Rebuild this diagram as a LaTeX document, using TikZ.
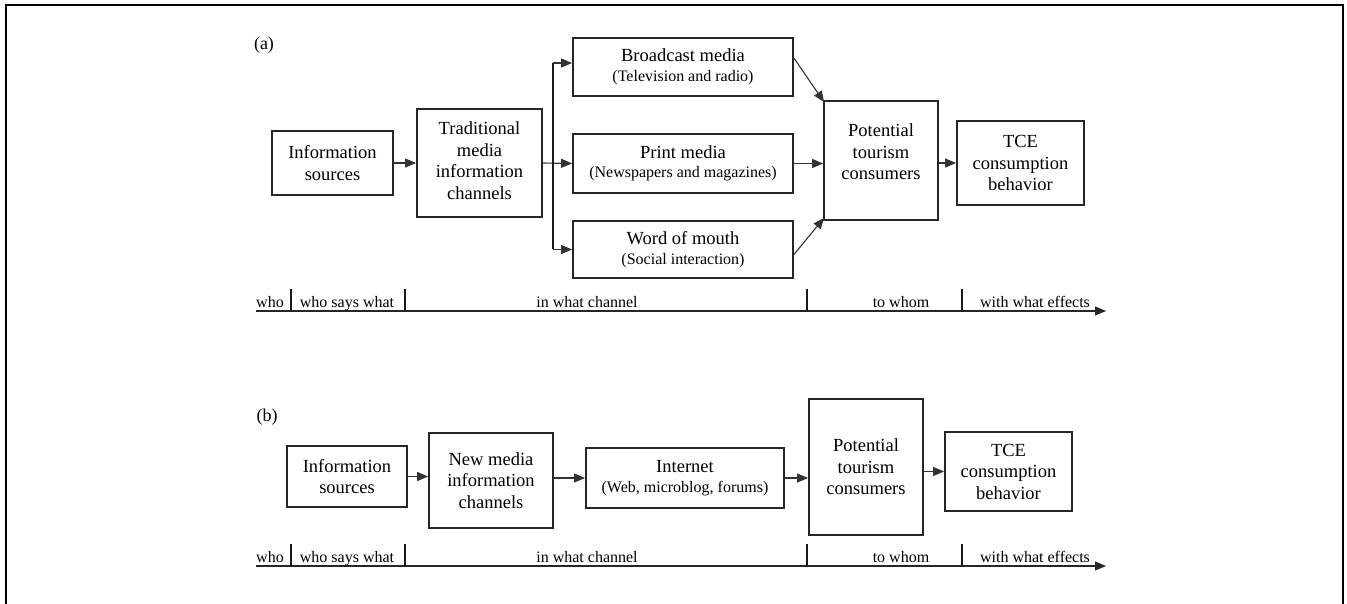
\documentclass[tikz,border=0pt]{standalone}
\usepackage{fontspec}
\setmainfont{Liberation Serif}
\usetikzlibrary{arrows.meta,calc}
\begin{document}
\begin{tikzpicture}[x=1pt,y=-1pt,
  box/.style={draw=black!85,line width=1.8pt,align=center,inner sep=0pt,
    font=\fontsize{18.5}{21.5}\selectfont},
  arr/.style={line width=1.1pt,draw=black!80,-{Triangle[length=11pt,width=9pt]}},
  bar/.style={line width=2pt,draw=black!90},
  tline/.style={line width=1.1pt,draw=black!85,-{Triangle[length=11pt,width=9pt]}},
  lbl/.style={font=\fontsize{16}{18}\selectfont,anchor=base,inner sep=0pt},
  tag/.style={font=\fontsize{18}{21}\selectfont,inner sep=0pt}]
\newcommand{\subtxt}[1]{{\fontsize{16}{18}\selectfont #1}}
\useasboundingbox (0,0) rectangle (1347,604);
% frame
\draw[line width=2pt] (6,604) -- (6,5) -- (1343,5) -- (1343,604);

% ---------------- (a)
\node[tag] (taga) at (264,45) {(a)};
\node[box,minimum width=121,minimum height=64] (is1) at (332.5,163) {Information\\sources};
\node[box,minimum width=125,minimum height=108] (tr) at (479.5,163) {Traditional\\media\\information\\channels\\[-17pt]\mbox{}};
\node[box,minimum width=220,minimum height=58] (bc) at (683,67) {Broadcast media\\[-2pt]\subtxt{(Television and radio)}};
\node[box,minimum width=220,minimum height=59] (pm) at (683,163.5) {Print media\\[-2pt]\subtxt{(Newspapers and magazines)}};
\node[box,minimum width=220,minimum height=57] (wm) at (683,249.5) {Word of mouth\\[-2pt]\subtxt{(Social interaction)}};
\node[box,minimum width=114,minimum height=119] (pt) at (881,160.5) {Potential\\tourism\\consumers\\[-4pt]\mbox{}};
\node[box,minimum width=127,minimum height=84] (tce) at (1020.5,163) {TCE\\consumption\\behavior};

\draw[arr] (is1.east) -- (tr.west);
\coordinate (br) at (553,163);
\draw[arr] (tr.east) -- (pm.west);
\draw[bar] (br |- bc.west) ++(0,-4) -- (br |- wm.west);
\draw[arr] ($(br |- bc.west)+(0,-4)$) -- ($(bc.west)+(0,-4)$);
\draw[arr] (br |- wm.west) -- (wm.west);
\draw[arr] ($(bc.east)+(0,-9)$) -- ($(pt.north west)+(1,2)$);
\draw[arr] (pm.east) -- (pm.east -| pt.west);
\draw[arr] ($(wm.east)+(0,5)$) -- ($(pt.south west)+(1,-3)$);
\draw[arr] (tce.west -| pt.east) -- (tce.west);

% timeline (a)
\coordinate (ta0) at (256,311);
\coordinate (ta1) at (1106,311);
\draw[tline] (ta0) -- (ta1);
\foreach \x in {291,405,807,962} \draw[bar] (\x,289) -- (\x,311);
\node[lbl] (a1) at (270,307) {who};
\node[lbl] (a2) at (347,307) {who says what};
\node[lbl] (a3) at (587,307) {in what channel};
\node[lbl] (a4) at (901,307) {to whom};
\node[lbl] (a5) at (1035,307) {with what effects};

% ---------------- (b)
\node[tag] (tagb) at (267,417) {(b)};
\node[box,minimum width=120,minimum height=61] (is2) at (347,476.5) {Information\\sources};
\node[box,minimum width=124,minimum height=95] (nm) at (491,480.5) {New media\\information\\channels};
\node[box,minimum width=198,minimum height=60] (in) at (685,478) {Internet\\[-2pt]\subtxt{(Web, microblog, forums)}};
\node[box,minimum width=114,minimum height=136] (pt2) at (866,467) {Potential\\tourism\\consumers};
\node[box,minimum width=127,minimum height=79] (tce2) at (1008.5,471.5) {TCE\\consumption\\behavior};

\draw[arr] (is2.east) -- (is2.east -| nm.west);
\draw[arr] (nm.east |- in.west) -- (in.west);
\draw[arr] (in.east) -- (in.east -| pt2.west);
\draw[arr] (pt2.east |- tce2.west) -- (tce2.west);

% timeline (b)
\coordinate (tb0) at (256,566);
\coordinate (tb1) at (1106,566);
\draw[tline] (tb0) -- (tb1);
\foreach \x in {291,405,807,962} \draw[bar] (\x,544) -- (\x,566);
\node[lbl] (b1) at (270,562) {who};
\node[lbl] (b2) at (347,562) {who says what};
\node[lbl] (b3) at (587,562) {in what channel};
\node[lbl] (b4) at (901,562) {to whom};
\node[lbl] (b5) at (1035,562) {with what effects};
\end{tikzpicture}
\end{document}
